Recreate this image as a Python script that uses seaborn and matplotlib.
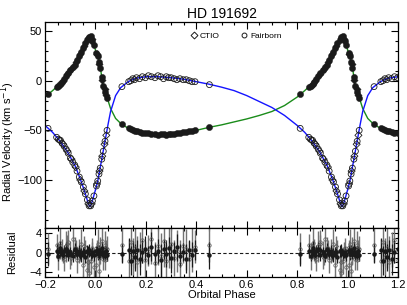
import matplotlib
matplotlib.use('Agg')
import matplotlib.pyplot as plt
from matplotlib.lines import Line2D
from matplotlib.ticker import MultipleLocator
import seaborn as sns
import numpy as np

# model orbit curves, one period
curve_phase = [0.00, 0.01, 0.02, 0.03, 0.04, 0.05, 0.06, 0.08, 0.10, 0.13, 0.16, 0.20,
               0.25, 0.30, 0.35, 0.40, 0.45, 0.50, 0.55, 0.60, 0.65, 0.70, 0.75, 0.80,
               0.83, 0.86, 0.89, 0.92, 0.94, 0.955, 0.965, 0.972, 0.978, 0.984, 0.99, 1.00]
curve_prim = [31, 24, 12, -4, -13, -20, -28, -38, -43, -48, -51, -53,
              -54, -54, -52.5, -50, -47, -44.5, -41.5, -38.5, -35, -31, -25, -16.5,
              -10, -3, 7, 17, 27, 35, 40, 43.5, 45, 43, 39, 31]
curve_sec = [-110, -100, -86, -72, -58, -44, -31, -15, -7, -1, 2.5, 4,
             4, 3, 1.5, -1, -3.5, -6.5, -10, -15, -21, -27, -35, -45,
             -52, -61, -72, -86, -99, -110, -118, -124, -127, -124, -119, -110]

# Fairborn observations
fb_phase = [0.004, 0.009, 0.014, 0.019, 0.025, 0.031, 0.038, 0.046, 0.105, 0.132,
            0.140, 0.148, 0.155, 0.163, 0.175, 0.186, 0.198, 0.210, 0.222, 0.236,
            0.248, 0.259, 0.270, 0.281, 0.290, 0.300, 0.312, 0.323, 0.335, 0.348,
            0.360, 0.372, 0.383, 0.395, 0.452, 0.812, 0.846, 0.853, 0.861, 0.868,
            0.876, 0.884, 0.892, 0.901, 0.910, 0.918, 0.927, 0.936, 0.944, 0.952,
            0.960, 0.968, 0.975, 0.981, 0.988, 0.994]
fb_v1 = [28, 25, 19, 13, 4, -5, -11, -17, -44, -48,
         -49, -50, -51, -51, -52, -53, -53, -53, -54, -54,
         -55, -54, -54, -55, -54, -54, -54, -53, -53, -52,
         -52, -51, -51, -50, -47, -13, -6, -5, -3, -1,
         2, 5, 8, 11, 14, 16, 21, 25, 29, 33,
         38, 41, 44, 45, 40, 36]
fb_v2 = [-106, -101, -94, -88, -79, -71, -61, -50, -6, -1,
         0, 2, 1, 3, 2, 4, 3, 5, 4, 3,
         5, 4, 2, 4, 3, 3, 2, 1, 2, 1,
         1, 0, -1, -1, -4, -48, -57, -59, -60, -63,
         -66, -69, -73, -78, -82, -85, -91, -97, -102, -107,
         -114, -120, -126, -126, -121, -116]
fb_r1 = [0.4, -0.3, 0.6, -0.2, 0.9, -0.5, 0.1, -0.4, -0.2, 0.5,
         -1.6, 0.3, -0.9, 0.6, -1.3, 0.2, 0.8, -0.5, 1.2, -0.3,
         0.4, -1.5, 0.7, -0.2, 0.9, -1.0, 0.3, 1.1, -0.6, 0.2,
         -1.2, 0.5, -0.4, 0.6, -0.5, -0.3, 0.4, -0.6, 0.9, -0.1,
         0.3, 0.7, -0.4, 0.2, -0.6, 0.8, -0.2, 0.4, -0.5, 0.1,
         -0.8, 0.3, 0.5, -0.3, 0.2, -0.4]
fb_e1 = [1.0, 1.2, 0.9, 1.1, 1.3, 1.0, 1.2, 1.4, 2.0, 2.5,
         3.0, 2.2, 2.8, 2.0, 3.2, 2.4, 2.6, 1.8, 3.0, 2.2,
         2.5, 3.4, 2.0, 2.8, 2.3, 3.1, 2.0, 2.7, 2.4, 1.9,
         3.0, 2.2, 2.6, 2.0, 2.8, 2.5, 1.4, 1.2, 1.6, 1.1,
         1.3, 1.5, 1.2, 1.0, 1.4, 1.3, 1.1, 1.2, 1.5, 1.0,
         1.3, 1.2, 1.4, 1.1, 1.0, 1.2]
fb_r2 = [-2.5, 1.8, -3.8, 0.5, 2.4, -1.2, 1.5, 0.8, 1.5, -1.6,
         2.2, -0.8, 1.0, -2.0, 0.6, 2.6, -1.5, 0.4, 2.9, -2.2,
         1.3, -0.6, 2.5, -1.8, 0.9, 1.7, -1.0, 0.3, -2.4, 1.4,
         0.7, -1.3, 0.5, 1.2, 1.6, 0.8, 1.5, -0.8, 2.0, 0.6,
         -1.2, 1.3, 2.2, -0.4, 2.8, 1.0, -1.5, 0.4, 1.8, -2.6,
         0.2, -3.5, -4.2, -1.8, 0.9, -3.0]
fb_e2 = [2.5, 3.0, 2.2, 2.8, 3.5, 2.4, 3.0, 2.6, 3.5, 4.5,
         5.0, 3.8, 4.2, 5.5, 3.6, 4.8, 4.0, 3.2, 5.2, 4.4,
         3.9, 4.6, 5.4, 3.5, 4.1, 4.9, 3.7, 4.3, 5.0, 3.6,
         4.2, 3.8, 4.5, 3.4, 3.5, 3.2, 2.4, 2.8, 3.0, 2.2,
         2.6, 3.2, 2.5, 2.9, 3.4, 2.3, 2.7, 2.5, 3.0, 2.8,
         2.4, 3.3, 2.9, 2.6, 2.2, 2.8]

# CTIO observations
ct_phase = [0.006, 0.016, 0.027, 0.036, 0.043, 0.858, 0.872, 0.889, 0.905, 0.922,
            0.940, 0.956, 0.972, 0.985]
ct_v1 = [27, 17, 1, -8, -14, -4, 0, 7, 12, 19, 27, 35, 43, 42]
ct_v2 = [-104, -91, -76, -64, -55, -60, -64, -71, -79, -87, -100, -111, -124, -124]
ct_r1 = [0.5, -0.3, 0.2, -0.6, 0.4, 0.3, -0.4, 0.6, -0.2, 0.3, -0.5, 0.2, 0.4, -0.3]
ct_e1 = [0.8, 0.9, 0.7, 0.8, 1.0, 0.9, 0.8, 1.0, 0.7, 0.9, 0.8, 1.0, 0.9, 0.8]
ct_r2 = [1.2, -0.8, 0.6, -1.5, 1.0, 0.4, -0.6, 1.8, -1.0, 0.9, -0.3, 1.4, -2.0, 0.7]
ct_e2 = [1.5, 1.8, 1.4, 2.0, 1.6, 1.7, 1.5, 1.9, 1.6, 1.8, 1.4, 2.0, 1.7, 1.5]

GREEN = '#1a8c1a'
BLUE = '#1414ff'

sns.set_theme(style='ticks')
plt.rcParams['font.family'] = ['Liberation Sans', 'DejaVu Sans']
plt.rcParams['axes.linewidth'] = 0.9
plt.rcParams['axes.edgecolor'] = 'black'
plt.rcParams['axes.labelcolor'] = 'black'
plt.rcParams['text.color'] = 'black'
plt.rcParams['xtick.color'] = 'black'
plt.rcParams['ytick.color'] = 'black'

fig = plt.figure(figsize=(4.07, 3.05), dpi=100)
ax = fig.add_axes([0.1106, 0.2525, 0.8673, 0.6754])
axr = fig.add_axes([0.1106, 0.0918, 0.8673, 0.1607], sharex=ax)

for off in (-1, 0, 1):
    cp = np.array(curve_phase) + off
    sns.lineplot(x=cp, y=curve_prim, color=GREEN, lw=1.0, ax=ax, sort=False, estimator=None)
    sns.lineplot(x=cp, y=curve_sec, color=BLUE, lw=1.0, ax=ax, sort=False, estimator=None)

    fp = np.array(fb_phase) + off
    cpp = np.array(ct_phase) + off
    sns.scatterplot(x=fp, y=fb_v2, marker='o', s=18, facecolor='none', edgecolor='k',
                    linewidth=0.6, ax=ax, zorder=3)
    sns.scatterplot(x=cpp, y=ct_v2, marker='D', s=13, facecolor='none', edgecolor='k',
                    linewidth=0.6, ax=ax, zorder=3)
    sns.scatterplot(x=fp, y=fb_v1, marker='o', s=20, color='k', edgecolor='k',
                    linewidth=0.3, ax=ax, zorder=3)
    sns.scatterplot(x=cpp, y=ct_v1, marker='D', s=14, color='k', edgecolor='k',
                    linewidth=0.3, ax=ax, zorder=3)

    # residuals
    axr.errorbar(fp, fb_r2, yerr=fb_e2, fmt='o', ms=2.5, mfc='none', mec='0.35',
                 mew=0.5, ecolor='0.45', elinewidth=1.0, capsize=0)
    axr.errorbar(cpp, ct_r2, yerr=ct_e2, fmt='D', ms=2.2, mfc='none', mec='0.35',
                 mew=0.5, ecolor='0.45', elinewidth=1.0, capsize=0)
    axr.errorbar(fp, fb_r1, yerr=fb_e1, fmt='o', ms=2.2, color='k',
                 elinewidth=0.9, capsize=0)
    axr.errorbar(cpp, ct_r1, yerr=ct_e1, fmt='D', ms=2.0, color='k',
                 elinewidth=0.9, capsize=0)

axr.axhline(0, color='k', ls='--', lw=0.8, dashes=(3, 2), zorder=5)

ax.set_xlim(-0.2, 1.2)
ax.set_ylim(-148.3, 59.1)
axr.set_ylim(-5.0, 5.1)

ax.yaxis.set_major_locator(MultipleLocator(50))
ax.yaxis.set_minor_locator(MultipleLocator(10))
ax.xaxis.set_major_locator(MultipleLocator(0.2))
ax.xaxis.set_minor_locator(MultipleLocator(0.05))
axr.yaxis.set_major_locator(MultipleLocator(4))
axr.yaxis.set_minor_locator(MultipleLocator(1))

for a in (ax, axr):
    a.tick_params(which='both', direction='in', top=True, right=True, labelsize=8,
                  width=0.8, pad=2)
    a.tick_params(which='major', length=5)
    a.tick_params(which='minor', length=2.5)
ax.tick_params(labelbottom=False)

ax.set_title('HD 191692', fontsize=10, pad=3)
ax.set_ylabel('Radial Velocity (km s$^{-1}$)', fontsize=8)
axr.set_ylabel('Residual', fontsize=8)
axr.set_xlabel('Orbital Phase', fontsize=8, labelpad=0)
ax.yaxis.set_label_coords(-0.078, 0.42)
axr.yaxis.set_label_coords(-0.078, 0.5)

handles = [Line2D([], [], ls='none', marker='D', ms=3.5, mfc='none', mec='k', mew=0.7),
           Line2D([], [], ls='none', marker='o', ms=3.5, mfc='none', mec='k', mew=0.7)]
ax.legend(handles, ['CTIO', 'Fairborn'], loc='upper center', bbox_to_anchor=(0.54, 0.985),
          ncol=2, frameon=False, fontsize=6, handletextpad=0.2, columnspacing=2.5,
          handlelength=1.0)

fig.savefig('out.png', dpi=100)
